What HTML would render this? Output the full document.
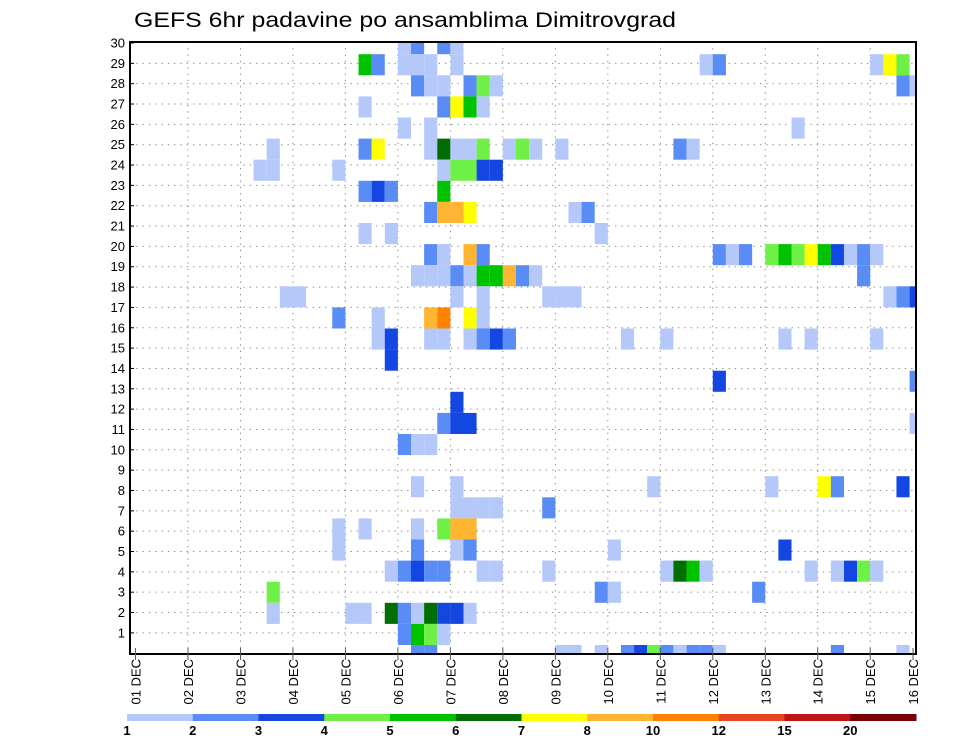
<!DOCTYPE html>
<html><head><meta charset="utf-8"><style>
html,body{margin:0;padding:0;background:#fff;}
svg{display:block;font-family:"Liberation Sans",sans-serif;}
</style></head><body>
<svg id="chart" width="960" height="742" viewBox="0 0 960 742" xmlns="http://www.w3.org/2000/svg">
<text x="134" y="27" font-size="21" textLength="542" lengthAdjust="spacingAndGlyphs" fill="#000">GEFS 6hr padavine po ansamblima Dimitrovgrad</text>
<g id="grid"></g>
<g id="cells"></g>
<rect x="130" y="42" width="786" height="612" fill="none" stroke="#000" stroke-width="2"/>
<g id="yaxis"></g>
<g id="xaxis"></g>
<g id="legend"></g>
</svg>
<script>
// member rows (m), 6-hour time steps (k), precipitation values (mm)
const cellMember = [29,29,29,29, 28,28,28,28,28,28,28,28,28,28,28, 27,27,27,27,27,27,27,27, 26,26,26,26,26, 25,25,25, 24,24,24,24,24,24,24,24,24,24,24,24,24,24, 23,23,23,23,23,23,23,23, 22,22,22,22, 21,21,21,21,21,21, 20,20,20, 19,19,19,19,19,19,19,19,19,19,19,19,19,19,19,19, 18,18,18,18,18,18,18,18,18,18,18, 17,17,17,17,17,17,17,17,17,17, 16,16,16,16,16,16, 15,15,15,15,15,15,15,15,15,15,15,15,15, 14, 13,13, 12, 11,11,11,11, 10,10,10, 8,8,8,8,8,8,8, 7,7,7,7,7, 6,6,6,6,6,6, 5,5,5,5,5,5, 4,4,4,4,4,4,4,4,4,4,4,4,4,4,4,4,4, 3,3,3,3, 2,2,2,2,2,2,2,2,2,2, 1,1,1,1, 0,0,0,0,0,0,0,0,0,0,0,0,0,0,0];
const cellStep = [21,22,24,25, 18,19,21,22,23,25,44,45,57,58,59, 22,23,24,26,27,28,59,60, 18,24,25,26,27, 21,23,51, 11,18,19,23,24,25,26,27,29,30,31,33,42,43, 10,11,16,24,25,26,27,28, 18,19,20,24, 23,24,25,26,34,35, 18,20,36, 23,24,26,27,45,46,47,49,50,51,52,53,54,55,56,57, 22,23,24,25,26,27,28,29,30,31,56, 12,13,25,27,32,33,34,58,59,60, 16,19,23,24,26,27, 19,20,23,24,26,27,28,29,38,41,50,52,57, 20, 45,60, 25, 24,25,26,60, 21,22,23, 22,25,40,49,53,54,59, 25,26,27,28,32, 16,18,22,24,25,26, 16,22,25,26,37,50, 20,21,22,23,24,27,28,32,41,42,43,44,52,54,55,56,57, 11,36,37,48, 11,17,18,20,21,22,23,24,25,26, 21,22,23,24, 22,23,33,34,36,38,39,40,41,42,43,44,45,54,59];
const cellValue = [1.5,2.5,2.5,1.5, 5.5,2.5,1.5,1.5,1.5,1.5,1.5,2.5,1.5,7.5,4.5, 2.5,1.5,1.5,2.5,4.5,1.5,2.5,1.5, 1.5,2.5,7.5,5.5,1.5, 1.5,1.5,1.5, 1.5,2.5,7.5,1.5,6.5,1.5,1.5,4.5,1.5,4.5,1.5,1.5,2.5,1.5, 1.5,1.5,1.5,1.5,4.5,4.5,3.5,3.5, 2.5,3.5,2.5,5.5, 2.5,9,9,7.5,1.5,2.5, 1.5,1.5,1.5, 2.5,1.5,9,2.5,2.5,1.5,2.5,4.5,5.5,4.5,7.5,5.5,3.5,1.5,2.5,1.5, 1.5,1.5,1.5,2.5,1.5,5.5,5.5,9,2.5,1.5,2.5, 1.5,1.5,1.5,1.5,1.5,1.5,1.5,1.5,2.5,3.5, 2.5,1.5,9,11,7.5,1.5, 1.5,3.5,1.5,1.5,1.5,2.5,3.5,2.5,1.5,1.5,1.5,1.5,1.5, 3.5, 3.5,2.5, 3.5, 2.5,3.5,3.5,1.5, 2.5,1.5,1.5, 1.5,1.5,1.5,1.5,7.5,2.5,3.5, 1.5,1.5,1.5,1.5,2.5, 1.5,1.5,1.5,4.5,9,9, 1.5,2.5,1.5,2.5,1.5,3.5, 1.5,2.5,3.5,2.5,2.5,1.5,1.5,1.5,1.5,6.5,5.5,1.5,1.5,1.5,3.5,4.5,1.5, 4.5,2.5,1.5,2.5, 1.5,1.5,1.5,6.5,2.5,1.5,6.5,3.5,3.5,1.5, 2.5,5.5,4.5,1.5, 2.5,2.5,1.5,1.5,1.5,2.5,3.5,4.5,2.5,1.5,2.5,2.5,1.5,2.5,1.5];
const levelBounds = [1,2,3,4,5,6,7,8,10,12,15,20];
const levelColors = ["#b4c8fa","#5a8cf5","#1446e1","#6ef046","#00c300","#006e00","#ffff00","#ffb432","#ff8200","#e6461e","#be1414","#780000"];
const dayLabels = ["01 DEC","02 DEC","03 DEC","04 DEC","05 DEC","06 DEC","07 DEC","08 DEC","09 DEC","10 DEC","11 DEC","12 DEC","13 DEC","14 DEC","15 DEC","16 DEC"];
const memberLabels = [1,2,3,4,5,6,7,8,9,10,11,12,13,14,15,16,17,18,19,20,21,22,23,24,25,26,27,28,29,30];

const NS = "http://www.w3.org/2000/svg";
const PL = 130, PR = 916, PT = 42, PB = 654;
function xDay(d){ return 135.5 + 52.48*d; }
function xStep(k){ return 135.5 + 13.12*(k-1); }
function yCellTop(m){ return 645 - 21.1*m; }
function yLabel(r){ return 43 + 20.34*(30-r); }
function colorFor(v){ let c = null; for (let i=0;i<levelBounds.length;i++){ if (v>=levelBounds[i]) c = levelColors[i]; } return c; }
function mk(tag, attrs, parent){ const e=document.createElementNS(NS,tag); for (const a in attrs) e.setAttribute(a, attrs[a]); parent.appendChild(e); return e; }

const grid = document.getElementById('grid');
for (let d=1; d<dayLabels.length-1; d++){
  const l = mk('line',{x1:xDay(d),x2:xDay(d),y1:PT,y2:PB,stroke:'#888','stroke-width':1,'stroke-dasharray':'1.3,5'},grid);
  
  
}
for (let i=0;i<memberLabels.length-1;i++){
  const y = yLabel(memberLabels[i]);
  const l = mk('line',{x1:PL,x2:PR,y1:y,y2:y,stroke:'#888','stroke-width':1,'stroke-dasharray':'1.3,5'},grid);
  
  
}

const cells = document.getElementById('cells');
for (let i=0;i<cellValue.length;i++){
  const c = colorFor(cellValue[i]); if (!c) continue;
  let x0 = xStep(cellStep[i]), x1 = x0 + 13.12;
  let y0 = yCellTop(cellMember[i]), y1 = y0 + 21.1;
  x0 = Math.max(x0,PL); x1 = Math.min(x1,PR); y0 = Math.max(y0,PT); y1 = Math.min(y1,PB);
  const r = mk('rect',{x:x0,y:y0,width:x1-x0,height:y1-y0,fill:c},cells);
  
  
}

const yaxis = document.getElementById('yaxis');
for (let i=0;i<memberLabels.length;i++){
  const y = yLabel(memberLabels[i]);
  const t = mk('text',{x:125,y:y+4.5,'font-size':13,'text-anchor':'end',fill:'#000'},yaxis);
  t.textContent = memberLabels[i];
  
  
  const tk = mk('line',{x1:PL,x2:PL+4,y1:y,y2:y,stroke:'#000','stroke-width':1},yaxis);
  
  
}

const xaxis = document.getElementById('xaxis');
for (let d=0; d<dayLabels.length; d++){
  const x = d===dayLabels.length-1 ? 913 : xDay(d);
  const tk = mk('line',{x1:x,x2:x,y1:PB-6,y2:PB+6,stroke:d===0?'#c33':'#555','stroke-width':1},xaxis);
  
  
  const t = mk('text',{x:0,y:0,'font-size':13,'text-anchor':'end',fill:'#000',transform:'translate('+(x+5)+',659) rotate(-90)'},xaxis);
  t.textContent = dayLabels[d];
  
  
}

const legend = document.getElementById('legend');
const segW = (916-127)/levelColors.length;
for (let i=0;i<levelColors.length;i++){
  const r = mk('rect',{x:127+segW*i,y:714,width:segW+0.5,height:7,fill:levelColors[i]},legend);
  
  
  const t = mk('text',{x:127+segW*i,y:735,'font-size':13,'font-weight':'bold','text-anchor':'middle',fill:'#000'},legend);
  t.textContent = levelBounds[i];
  
  
}
</script>
</body></html>
